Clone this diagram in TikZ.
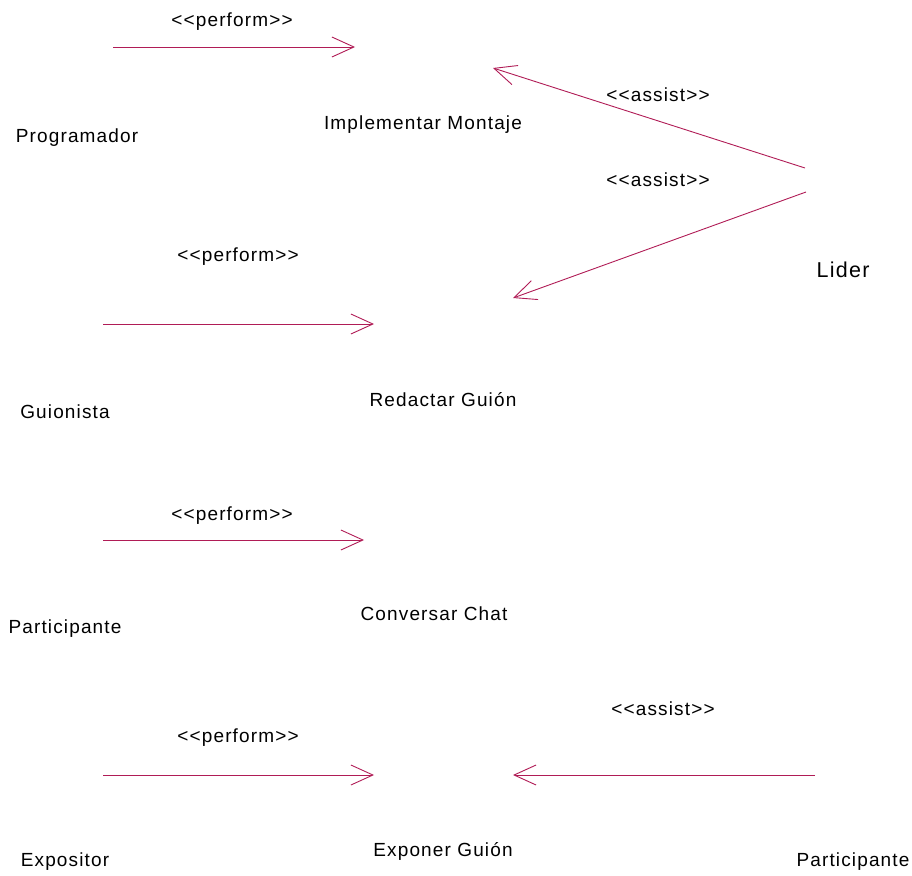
\documentclass[tikz,border=0pt]{standalone}
\usepackage{fontspec}
\setmainfont{Liberation Sans}[LetterSpace=6]
\usetikzlibrary{arrows.meta}
\definecolor{relcol}{RGB}{176,28,86}
\tikzset{
  lbl/.style={inner sep=0pt, font=\fontsize{19}{22}\selectfont},
  actor/.style={lbl},
  usecase/.style={lbl},
  stereo/.style={lbl},
  rel/.style={draw=relcol, line width=0.9pt, -{Straight Barb[length=22pt,width=20pt,line width=0.9pt]}},
}
\newcommand{\perf}{{<}{<}perform{>}{>}}
\newcommand{\asst}{{<}{<}assist{>}{>}}
\begin{document}
\begin{tikzpicture}[x=1pt,y=-1pt]
\useasboundingbox (0,0) rectangle (912,875);
% actors
\node[actor] (prog) at (77,138) {Programador};
\node[actor] (guion) at (65,412) {Guionista};
\node[actor] (part1) at (65,629) {Participante};
\node[actor] (expo) at (65,862) {Expositor};
\node[actor] (part2) at (853,862) {Participante};
\node[lbl, font=\fontsize{21.5}{24}\selectfont] (lider) at (843,270) {Lider};
% use cases
\node[usecase] (impl) at (423,125) {Implementar Montaje};
\node[usecase] (red) at (443,400) {Redactar Guión};
\node[usecase] (chat) at (434,614) {Conversar Chat};
\node[usecase] (expon) at (443,851) {Exponer Guión};
% connector end points
\coordinate (p1s) at (113,47);  \coordinate (p1e) at (355,47);
\coordinate (a1s) at (805,168); \coordinate (a1e) at (493,68);
\coordinate (a2s) at (806,192); \coordinate (a2e) at (513,298);
\coordinate (p2s) at (103,324); \coordinate (p2e) at (374,324);
\coordinate (p3s) at (103,540); \coordinate (p3e) at (364,540);
\coordinate (p4s) at (103,775); \coordinate (p4e) at (374,775);
\coordinate (a3s) at (815,775); \coordinate (a3e) at (513,775);
% relationships
\draw[rel] (p1s) -- (p1e);
\draw[rel] (a1s) -- (a1e);
\draw[rel] (a2s) -- (a2e);
\draw[rel] (p2s) -- (p2e);
\draw[rel] (p3s) -- (p3e);
\draw[rel] (p4s) -- (p4e);
\draw[rel] (a3s) -- (a3e);
% stereotypes
\node[stereo] (s1) at (232,22) {\perf};
\node[stereo] (s2) at (658,95) {\asst};
\node[stereo] (s3) at (658,180) {\asst};
\node[stereo] (s4) at (238,257) {\perf};
\node[stereo] (s5) at (232,516) {\perf};
\node[stereo] (s6) at (238,738) {\perf};
\node[stereo] (s7) at (663,709) {\asst};
\end{tikzpicture}
\end{document}
